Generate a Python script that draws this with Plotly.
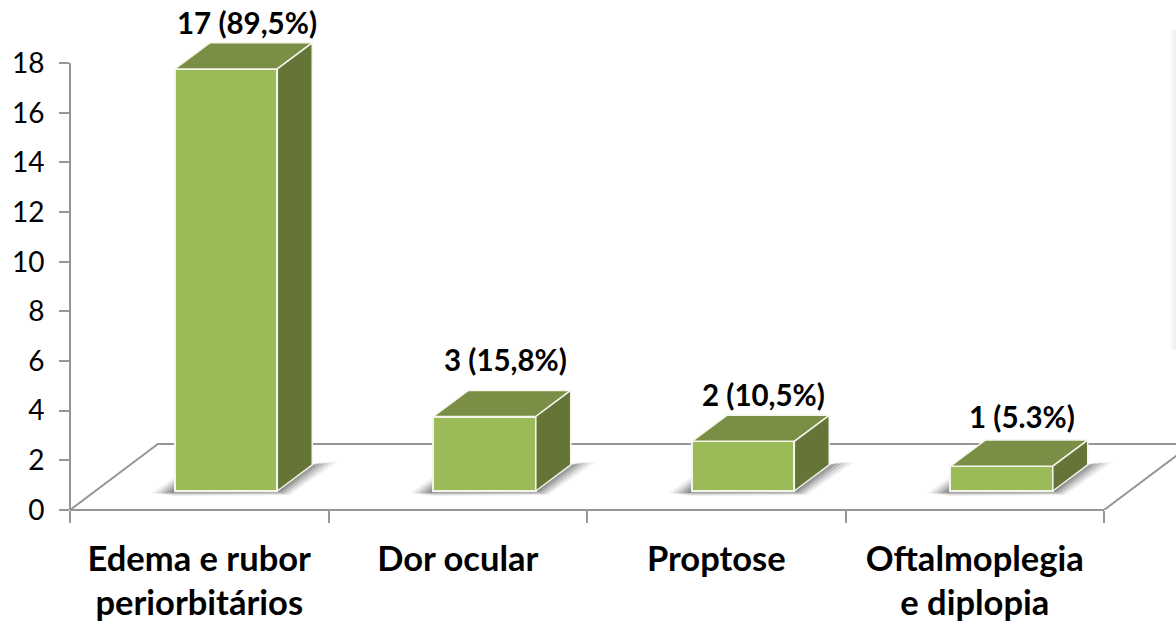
import plotly.graph_objects as go

# Chart data
categories = ["Edema e rubor<br>periorbitários", "Dor ocular", "Proptose", "Oftalmoplegia<br>e diplopia"]
counts = [17, 3, 2, 1]
value_labels = ["17 (89,5%)", "3 (15,8%)", "2 (10,5%)", "1 (5.3%)"]
y_ticks = list(range(0, 20, 2))

# Plot area runs past the axes so the floor and the tallest bar are not clipped
N = len(categories)
X_MAX = N - 0.5 + 0.2785
Y_MAX = 20.54
PX_X = 1106 / (X_MAX + 0.5)   # pixels per category
PX_Y = 510 / Y_MAX            # pixels per count

# Pseudo-3D geometry, in axis units
FLOOR_DX, FLOOR_DY = 0.34, 2.66      # depth of the floor plane
BASE_X, BASE_Y = 0.104, 0.765        # where a bar stands on the floor
BAR_W = 0.396                        # front face width
DEPTH_X, DEPTH_Y = 0.135, 1.05       # depth of a bar

FRONT, TOP, SIDE = "#9BBB59", "#7A8F45", "#647537"
EDGE = "#F4F6EC"
AXIS = "#969696"
FONT = "Lato"

fig = go.Figure()


def poly(axis, xs, ys, fill, line=None, width=0):
    fig.add_trace(go.Scatter(
        x=xs, y=ys, xaxis=axis, yaxis="y", mode="lines", fill="toself",
        fillcolor=fill, line=dict(color=line or "rgba(0,0,0,0)", width=width),
        hoverinfo="skip", showlegend=False))


# Floor outline behind the bars
fig.add_trace(go.Scatter(
    x=[-0.5, -0.5 + FLOOR_DX, N - 0.5 + FLOOR_DX, N - 0.5],
    y=[0, FLOOR_DY, FLOOR_DY, 0],
    xaxis="x", yaxis="y", mode="lines", line=dict(color=AXIS, width=2),
    hoverinfo="skip", showlegend=False))

# Soft shadows cast on the floor, built up from translucent layers
for i in range(N):
    left = i + BASE_X - BAR_W / 2
    right = left + BAR_W
    for grow, alpha in [(1.0, 0.08), (0.8, 0.12), (0.6, 0.16), (0.4, 0.2), (0.2, 0.24)]:
        poly("x",
             [left - 23 / PX_X * grow, left, right + DEPTH_X,
              right + DEPTH_X + 25 / PX_X * grow, right + 12 / PX_X * grow, left],
             [BASE_Y - 2 / PX_Y, BASE_Y + 14 / PX_Y * grow, BASE_Y + DEPTH_Y,
              BASE_Y + DEPTH_Y + 3 / PX_Y, BASE_Y - 4 / PX_Y * grow, BASE_Y - 5 / PX_Y * grow],
             f"rgba(50,50,50,{alpha})")

# Front faces of the bars
fig.add_trace(go.Bar(
    x=categories, y=counts, base=BASE_Y, width=BAR_W,
    offset=BASE_X - BAR_W / 2, xaxis="x2", yaxis="y",
    marker=dict(color=FRONT, line=dict(color=EDGE, width=2)),
    hoverinfo="skip", showlegend=False))

# Top and side faces derived from each count
for i, v in enumerate(counts):
    left = i + BASE_X - BAR_W / 2
    right = left + BAR_W
    top = BASE_Y + v
    poly("x3", [left, left + DEPTH_X, right + DEPTH_X, right, left],
         [top, top + DEPTH_Y, top + DEPTH_Y, top, top], TOP, EDGE, 1.5)
    poly("x3", [right, right + DEPTH_X, right + DEPTH_X, right, right],
         [BASE_Y, BASE_Y + DEPTH_Y, top + DEPTH_Y, top, BASE_Y], SIDE, EDGE, 1.5)

# Value labels above each bar
label_lift = [20, 31, 21, 24]
for i, (v, text, lift) in enumerate(zip(counts, value_labels, label_lift)):
    fig.add_annotation(
        x=i + BASE_X + DEPTH_X / 2, y=BASE_Y + v + DEPTH_Y, xref="x3", yref="y",
        text=f"<b>{text}</b>", showarrow=False, xanchor="center", yanchor="middle",
        xshift=3, yshift=lift, font=dict(family=FONT, size=29.5, color="#000000"))

# Axis lines stop at the last tick even though the plot area continues
x_end = N / (X_MAX + 0.5)
y_end = 18 / Y_MAX
axis_lines = [
    dict(type="line", xref="paper", yref="paper", x0=0, x1=x_end, y0=0, y1=0,
         line=dict(color=AXIS, width=2), layer="below"),
    dict(type="line", xref="paper", yref="paper", x0=0, x1=0, y0=0, y1=y_end,
         line=dict(color=AXIS, width=2), layer="below"),
]

# Faint shadow of a box at the right edge of the page
edge_shadow = [
    dict(type="rect", xref="paper", yref="paper", line=dict(width=0),
         x0=1 - w / 1106, x1=1, y0=(510 - 350) / 510, y1=(510 - 30) / 510,
         fillcolor="rgba(120,120,120,0.025)", layer="below")
    for w in (6, 5, 4, 3, 2)
]

hidden_axis = dict(range=[-0.5, X_MAX], visible=False, fixedrange=True)

fig.update_layout(
    width=1176, height=623,
    margin=dict(l=70, r=0, t=0, b=113, pad=0),
    paper_bgcolor="white", plot_bgcolor="rgba(0,0,0,0)",
    bargap=0, showlegend=False, shapes=axis_lines + edge_shadow,
    font=dict(family=FONT, color="#000000"),
    xaxis=hidden_axis,
    xaxis2=dict(
        overlaying="x", type="category", categoryorder="array", categoryarray=categories,
        range=[-0.5, X_MAX], tickson="boundaries", ticks="outside", ticklen=12,
        tickwidth=2, tickcolor=AXIS, showline=False, showgrid=False, zeroline=False,
        fixedrange=True, tickangle=0, ticklabelstandoff=25,
        tickfont=dict(family=FONT, size=34.5, color="#000000", weight=700)),
    xaxis3=dict(overlaying="x", **hidden_axis),
    yaxis=dict(
        range=[0, Y_MAX], tickvals=y_ticks, ticks="outside", ticklen=10, tickwidth=2,
        tickcolor=AXIS, showline=False, showgrid=False, zeroline=False, fixedrange=True,
        ticklabelstandoff=9,
        tickfont=dict(family=FONT, size=28, color="#000000")),
)

fig.write_html("out.html")
